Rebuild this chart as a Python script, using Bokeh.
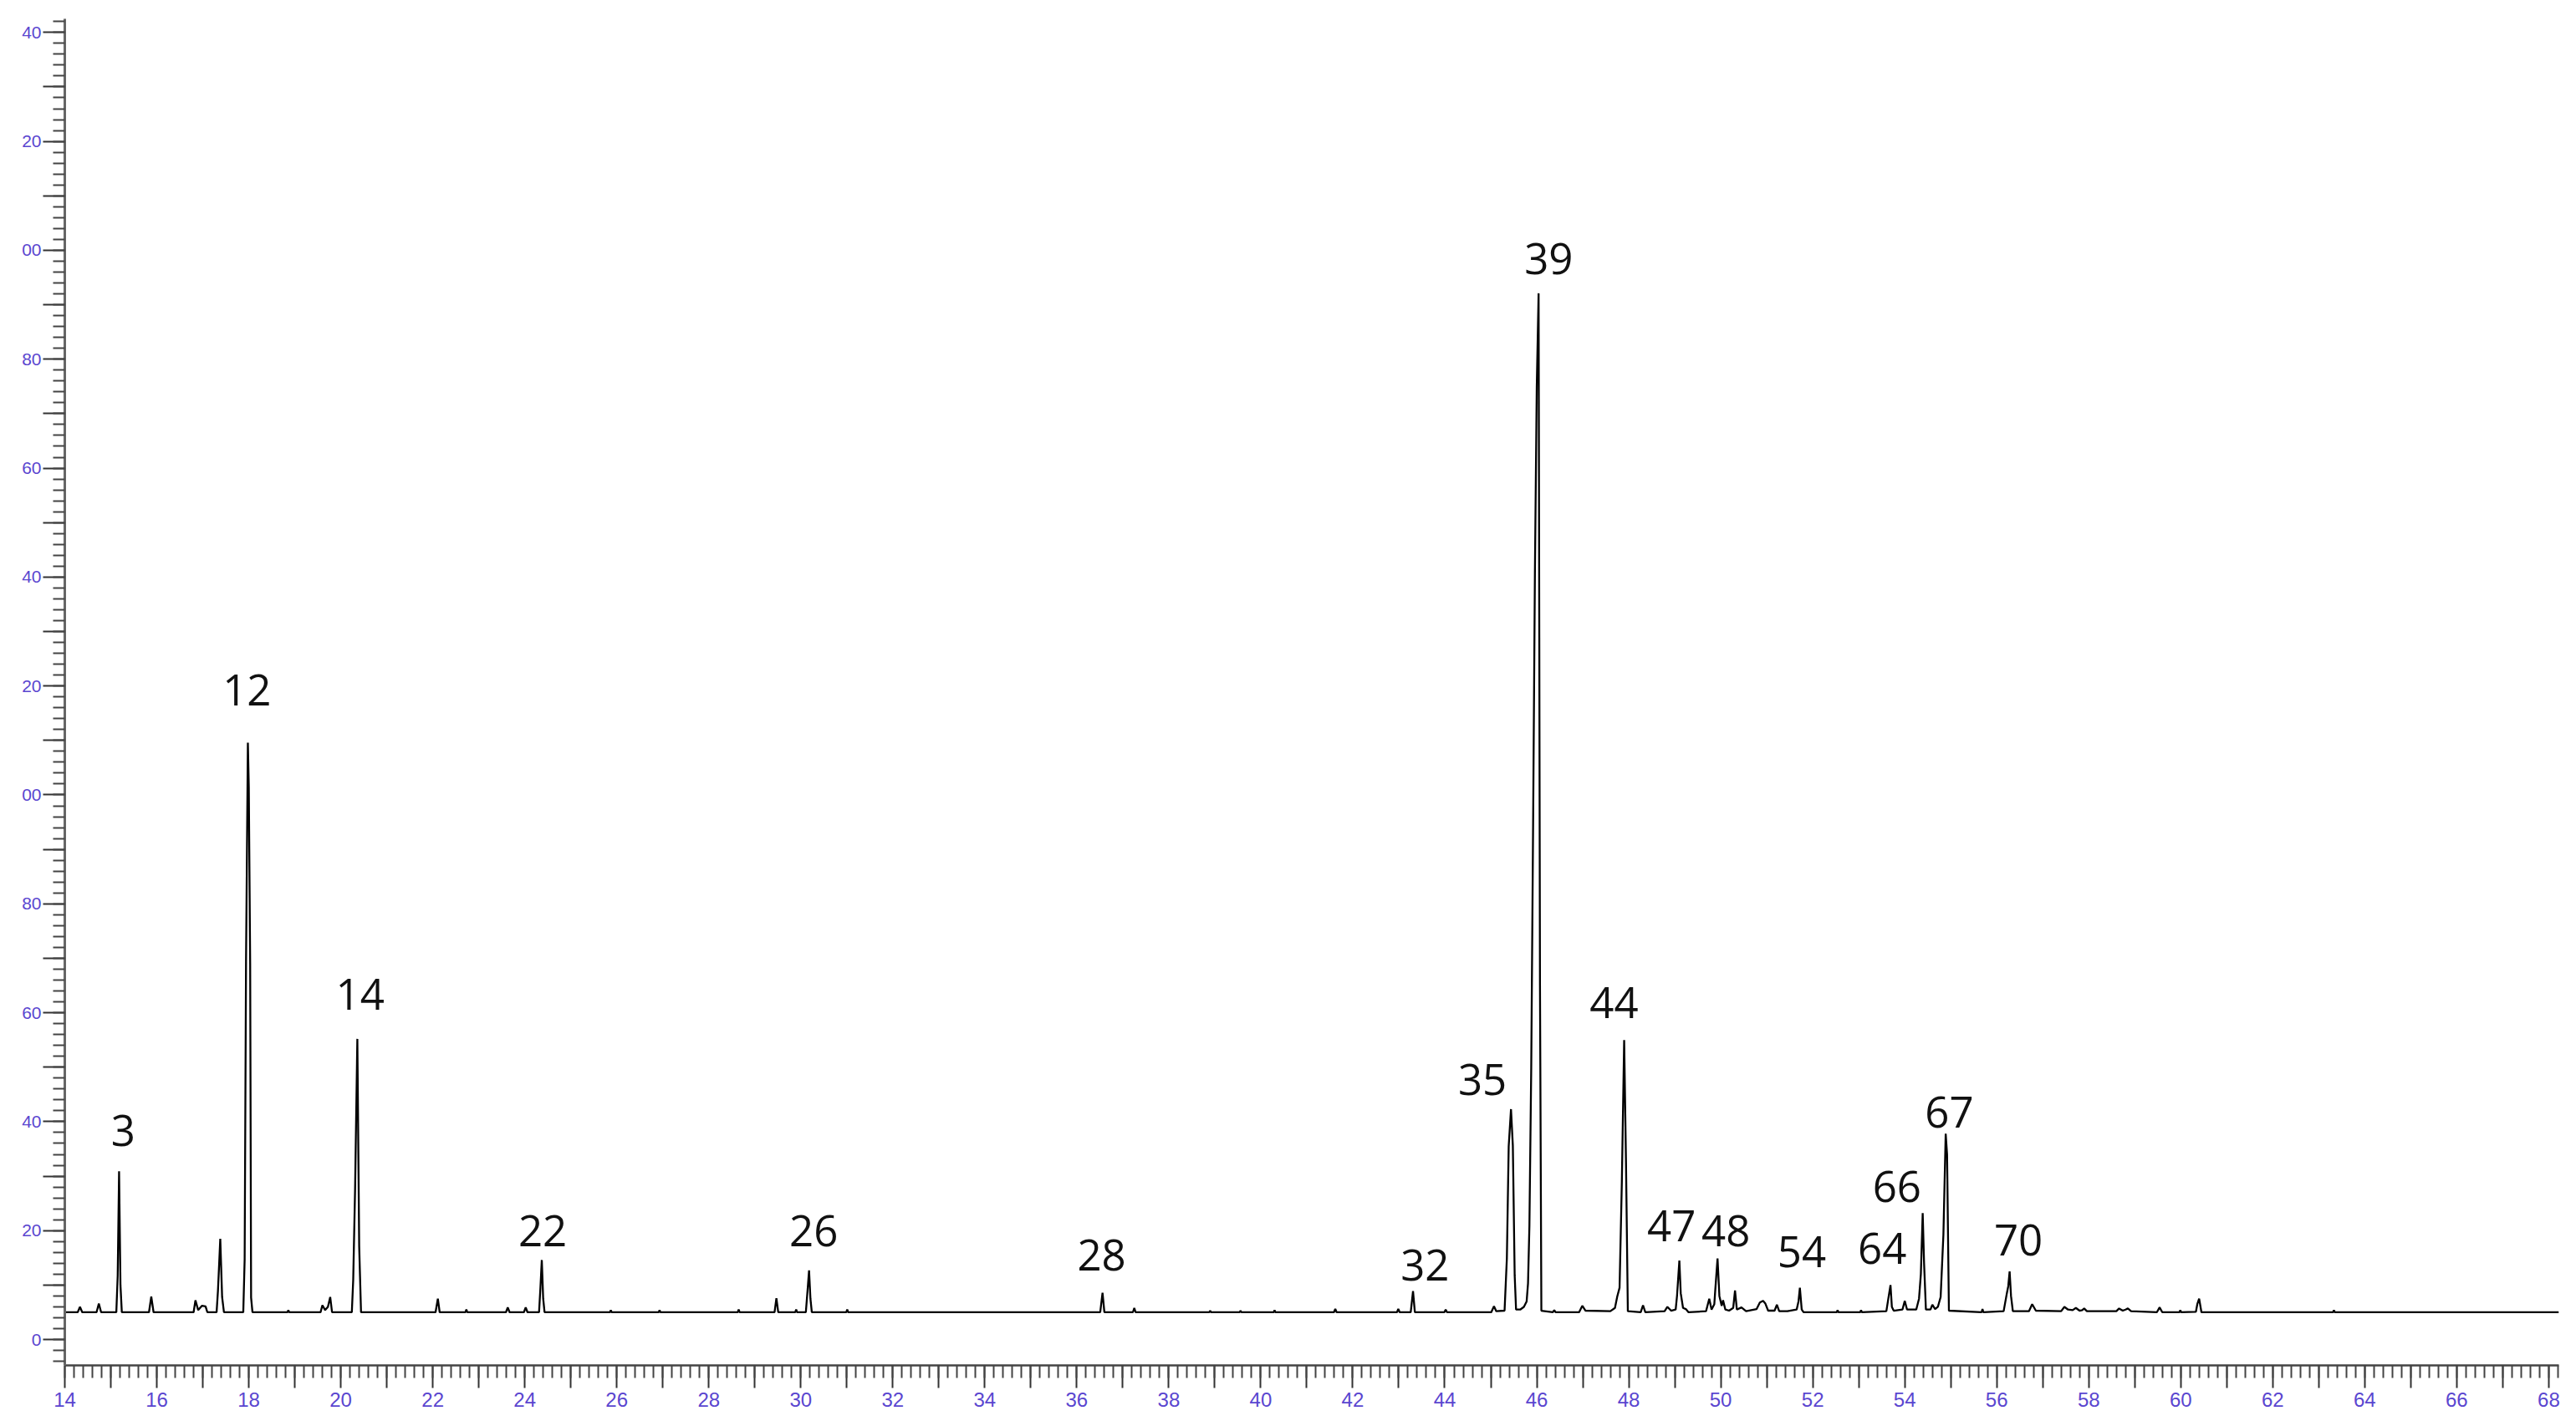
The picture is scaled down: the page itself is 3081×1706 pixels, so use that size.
from bokeh.plotting import figure
from bokeh.models import FixedTicker, Range1d, ColumnDataSource
from bokeh.core.properties import value
from bokeh.embed import file_html
from bokeh.resources import INLINE

# ---- chromatogram trace (retention time in min, detector signal) ----
trace_time = [
    14.00,
    14.28, 14.33, 14.38,
    14.69, 14.74, 14.79,
    15.12, 15.15, 15.18, 15.21, 15.24,
    15.83, 15.88, 15.93,
    16.80, 16.84, 16.90, 16.98, 17.06, 17.10,
    17.30, 17.33, 17.38, 17.42, 17.46,
    17.88, 17.91, 17.94, 17.98, 18.00, 18.03, 18.05, 18.08,
    18.84, 18.86, 18.88,
    19.56, 19.60, 19.66, 19.72, 19.77, 19.81,
    20.24, 20.27, 20.31, 20.36, 20.40, 20.44,
    22.06, 22.11, 22.15,
    22.71, 22.73, 22.75,
    23.59, 23.63, 23.67,
    23.98, 24.02, 24.06,
    24.31, 24.34, 24.37, 24.40, 24.43,
    25.85, 25.87, 25.89,
    26.91, 26.93, 26.95,
    28.63, 28.65, 28.67,
    29.43, 29.47, 29.51,
    29.88, 29.90, 29.92,
    30.11, 30.15, 30.18, 30.21, 30.24,
    30.99, 31.01, 31.03,
    36.51, 36.56, 36.60,
    37.22, 37.25, 37.28,
    38.88, 38.90, 38.92,
    39.54, 39.56, 39.58,
    40.28, 40.30, 40.32,
    41.59, 41.62, 41.65,
    42.96, 42.99, 43.02,
    43.26, 43.31, 43.35,
    43.99, 44.02, 44.05,
    45.01, 45.07, 45.12, 45.30, 45.35, 45.39, 45.44, 45.48, 45.52, 45.55,
    45.64, 45.72, 45.78, 45.81, 45.84, 45.88, 45.92, 45.96, 46.00, 46.04, 46.07, 46.10,
    46.35, 46.38, 46.41,
    46.92, 46.99, 47.06,
    47.60, 47.70, 47.75, 47.80, 47.85, 47.90, 47.94, 47.98,
    48.26, 48.31, 48.36,
    48.78, 48.84, 48.92, 49.02, 49.05, 49.10, 49.13, 49.18, 49.24, 49.30,
    49.68, 49.75, 49.80, 49.86, 49.88, 49.93, 49.97, 50.02, 50.05, 50.10,
    50.18, 50.27, 50.31, 50.35, 50.45, 50.55, 50.78, 50.85, 50.92, 50.97, 51.03,
    51.17, 51.22, 51.27, 51.45, 51.65, 51.69, 51.72, 51.76, 51.80,
    52.52, 52.54, 52.56,
    53.03, 53.05, 53.07,
    53.60, 53.65, 53.69, 53.72, 53.76, 53.95, 54.00, 54.05,
    54.25, 54.31, 54.35, 54.39, 54.42, 54.46, 54.56, 54.60, 54.66,
    54.72, 54.78, 54.84, 54.89, 54.92, 54.96,
    55.67, 55.69, 55.71,
    56.15, 56.22, 56.25, 56.28, 56.31, 56.35,
    56.70, 56.77, 56.85,
    57.40, 57.47, 57.55, 57.65, 57.72, 57.80, 57.86, 57.90, 57.96,
    58.60, 58.66, 58.74, 58.80, 58.85, 58.92,
    59.48, 59.54, 59.60,
    59.97, 59.99, 60.01,
    60.33, 60.36, 60.40, 60.45,
    63.31, 63.33, 63.35,
    68.22,
]
trace_signal = [
    5.0,
    5.0, 6.0, 5.0,
    5.0, 6.6, 5.0,
    5.0, 11.7, 30.9, 10.0, 5.0,
    5.0, 7.9, 5.0,
    5.0, 7.2, 5.4, 6.2, 6.1, 5.0,
    5.0, 9.0, 18.5, 7.8, 5.0,
    5.0, 14.7, 69.4, 109.6, 101.5, 69.0, 7.7, 5.0,
    5.0, 5.4, 5.0,
    5.0, 6.3, 5.4, 6.0, 7.8, 5.0,
    5.0, 10.9, 27.3, 55.2, 17.1, 5.0,
    5.0, 7.5, 5.0,
    5.0, 5.5, 5.0,
    5.0, 5.9, 5.0,
    5.0, 5.9, 5.0,
    5.0, 9.5, 14.6, 7.5, 5.0,
    5.0, 5.4, 5.0,
    5.0, 5.4, 5.0,
    5.0, 5.5, 5.0,
    5.0, 7.6, 5.0,
    5.0, 5.5, 5.0,
    5.0, 9.3, 12.7, 7.5, 5.0,
    5.0, 5.5, 5.0,
    5.0, 8.6, 5.0,
    5.0, 5.8, 5.0,
    5.0, 5.3, 5.0,
    5.0, 5.3, 5.0,
    5.0, 5.4, 5.0,
    5.0, 5.6, 5.0,
    5.0, 5.6, 5.0,
    5.0, 8.9, 5.0,
    5.0, 5.5, 5.0,
    5.0, 6.1, 5.2, 5.3, 14.9, 35.5, 42.3, 35.6, 11.8, 5.5,
    5.5, 6.0, 7.0, 10.3, 20.8, 50.0, 94.0, 141.0, 175.0, 192.1, 65.0, 5.3,
    5.0, 5.4, 5.0,
    5.0, 6.2, 5.3,
    5.2, 5.8, 7.9, 9.5, 29.0, 55.0, 32.5, 5.2,
    5.0, 6.3, 5.0,
    5.2, 6.0, 5.3, 5.5, 8.1, 14.5, 8.5, 5.8, 5.6, 5.0,
    5.2, 7.5, 5.5, 6.5, 9.0, 14.9, 8.0, 6.2, 7.2, 5.5,
    5.3, 5.8, 9.0, 5.5, 5.9, 5.2, 5.6, 6.8, 7.1, 6.6, 5.3,
    5.3, 6.4, 5.2, 5.2, 5.5, 7.0, 9.5, 5.5, 5.0,
    5.0, 5.4, 5.0,
    5.0, 5.4, 5.0,
    5.2, 7.9, 10.0, 6.0, 5.3, 5.5, 7.1, 5.5,
    5.5, 7.5, 12.0, 23.2, 14.0, 5.5, 5.5, 6.4, 5.6,
    6.0, 7.8, 19.2, 37.8, 34.0, 5.3,
    5.0, 5.6, 5.0,
    5.2, 8.5, 9.8, 12.5, 8.0, 5.2,
    5.2, 6.5, 5.3,
    5.2, 6.0, 5.5, 5.4, 5.8, 5.3, 5.4, 5.7, 5.2,
    5.2, 5.7, 5.3, 5.5, 5.7, 5.2,
    5.0, 5.9, 5.0,
    5.0, 5.4, 5.0,
    5.1, 6.5, 7.5, 5.0,
    5.0, 5.4, 5.0,
    5.0,
]

# ---- peak number labels ----
peak_labels = ["3", "12", "14", "22", "26", "28", "32", "35", "39", "44",
               "47", "48", "54", "64", "66", "67", "70"]
label_time = [15.27, 17.96, 20.42, 24.39, 30.28, 36.54, 43.57, 44.82, 46.26, 47.68,
              48.93, 50.11, 51.76, 53.51, 53.83, 54.97, 56.47]
label_signal = [38.4, 119.2, 63.4, 20.0, 20.0, 15.5, 13.7, 47.7, 198.5, 61.9,
                20.9, 20.0, 16.1, 16.7, 28.1, 41.7, 18.2]

# ---- axis ticks ----
x_major_ticks = list(range(14, 69))
x_labels = {t: (str(t) if t % 2 == 0 else "") for t in x_major_ticks}
y_major_ticks = list(range(0, 241, 10))
y_label_values = [0, 20, 40, 60, 80, 100, 120, 140, 160, 180, 200, 220, 240]
y_label_texts = ["0", "20", "40", "60", "80", "00", "20", "40", "60", "80", "00", "20", "40"]

p = figure(width=3078, height=1698, output_backend="svg", toolbar_location=None,
           x_range=Range1d(14.0, 68.22), y_range=Range1d(-4.75, 242.5),
           min_border_left=77, min_border_right=18, min_border_top=22, min_border_bottom=65)
p.grid.visible = False
p.outline_line_color = None
p.background_fill_color = "white"

p.line(trace_time, trace_signal, line_color="black", line_width=2.3)

src = ColumnDataSource(dict(x=label_time, y=label_signal, t=peak_labels))
p.text(x="x", y="y", text="t", source=src, text_font=value("Open Sans"),
       text_font_size="51px", text_align="center", text_baseline="middle",
       text_color="#111111")

tick_label_color = "#5a46d0"

xa = p.xaxis[0]
xa.ticker = FixedTicker(ticks=x_major_ticks,
                        minor_ticks=[round(14 + 0.2 * i, 2) for i in range(0, 272)])
xa.major_label_overrides = x_labels
xa.major_tick_out = 27
xa.major_tick_in = 0
xa.minor_tick_out = 15
xa.minor_tick_in = 0
xa.axis_line_color = "#444444"
xa.axis_line_width = 2.5
xa.major_tick_line_color = "#333333"
xa.major_tick_line_width = 2
xa.minor_tick_line_color = "#444444"
xa.minor_tick_line_width = 2
xa.major_label_text_font = "Liberation Sans"
xa.major_label_text_font_size = "24px"
xa.major_label_text_color = tick_label_color
xa.major_label_standoff = 5

ya = p.yaxis[0]
ya.ticker = FixedTicker(ticks=y_major_ticks, minor_ticks=list(range(-4, 243, 2)))
ya.major_label_overrides = {t: "" for t in y_major_ticks} | dict(zip(y_label_values, y_label_texts))
ya.major_tick_out = 26
ya.major_tick_in = 0
ya.minor_tick_out = 14
ya.minor_tick_in = 0
ya.axis_line_color = "#666666"
ya.axis_line_width = 3
ya.major_tick_line_color = "#333333"
ya.major_tick_line_width = 2
ya.minor_tick_line_color = "#444444"
ya.minor_tick_line_width = 2
ya.major_label_text_font = "Liberation Sans"
ya.major_label_text_font_size = "21px"
ya.major_label_text_color = tick_label_color
ya.major_label_standoff = 2

open("out.html", "w").write(file_html(p, INLINE))
